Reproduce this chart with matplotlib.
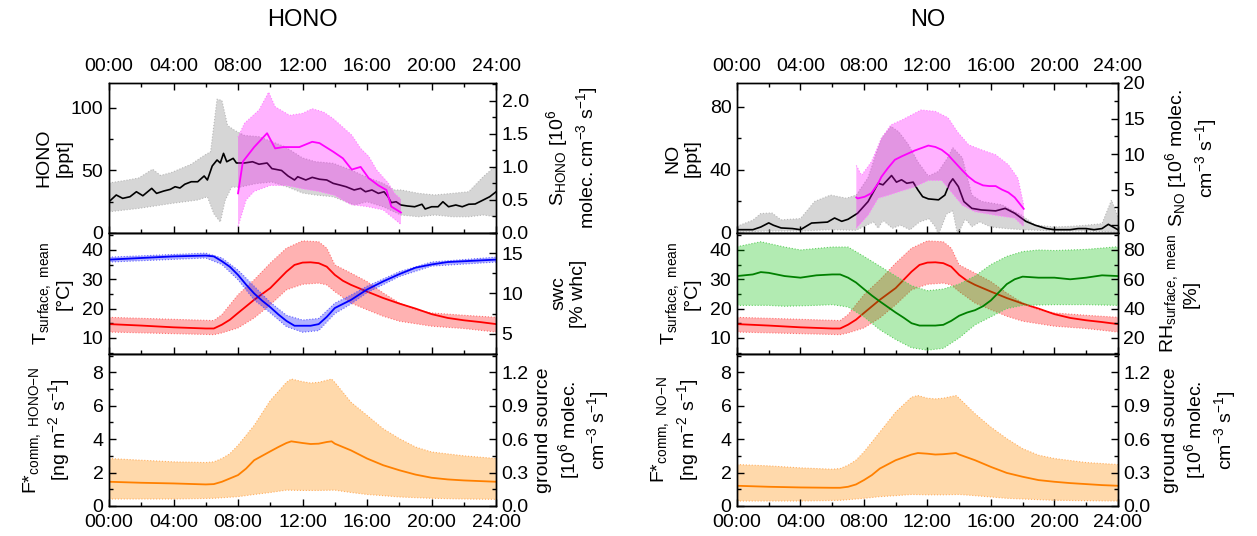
import matplotlib.pyplot as plt
import numpy as np
from matplotlib.ticker import MultipleLocator

# ---- diurnal data (hour of day) ----
HOUR_TICKS = [0, 4, 8, 12, 16, 20, 24]
HOUR_LABELS = ['00:00', '04:00', '08:00', '12:00', '16:00', '20:00', '24:00']

# HONO mixing ratio [ppt], median and spread
hono_t = [0, 0.45, 0.85, 1.3, 1.7, 2.1, 2.65, 2.95, 3.4, 3.8, 4.1, 4.4, 4.7, 5.1, 5.5, 5.9, 6.1,
          6.4, 6.7, 6.9, 7.1, 7.3, 7.7, 7.9, 8.4, 8.9, 9.3, 9.8, 10.1, 10.7, 11.1, 11.5, 11.7,
          12.2, 12.6, 13.05, 13.5, 13.9, 14.3, 14.7, 15.2, 15.6, 15.9, 16.3, 16.7, 17.05, 17.3,
          17.5, 17.8, 18.1, 18.5, 18.95, 19.4, 19.6, 20.0, 20.4, 20.7, 21.05, 21.5, 21.9, 22.3,
          22.7, 23.2, 23.6, 24.0]
hono = [25, 30.4, 27.7, 29, 33, 29.8, 35.7, 31.7, 33.6, 34.9, 37, 36, 39, 41, 41, 45.6, 42.4,
        53.6, 58.4, 56, 63.7, 57, 59.7, 56, 56, 57, 55, 56, 51.5, 50, 45.6, 42.4, 45, 42.4, 44.5,
        43, 42.4, 39.7, 38.4, 37, 34.4, 35.7, 33, 34.4, 31.7, 33, 29, 24.3, 25, 22.4, 21.6, 21,
        23, 19.2, 21, 21, 25, 21, 22.4, 21, 23, 23.2, 26.4, 29, 33]
hono_hi_t = [0, 1, 1.85, 2.7, 3.2, 3.9, 5.1, 5.9, 6.3, 6.7, 7.0, 7.35, 7.8, 8.4, 9.3, 10.1, 10.9,
             12, 12.8, 13.9, 15, 16, 17, 17.7, 18.1, 19.2, 20.2, 21.3, 22.3, 23.2, 23.8, 24]
hono_hi = [40, 42, 44, 51, 46, 48.5, 55, 62, 65, 107, 106, 86, 82, 78, 77, 73, 69, 60, 57, 55.7,
           50.4, 44.5, 39.7, 34.4, 34.4, 31.7, 30.4, 31.7, 33, 45, 51.7, 53]
hono_lo_t = [0, 1.85, 3.9, 5.5, 6.1, 6.5, 6.9, 7.2, 7.6, 8.1, 9.1, 10.1, 11.1, 12, 12.8, 13.9,
             15.2, 16, 17, 18.1, 19.2, 20.2, 21.3, 22.3, 23.2, 24]
hono_lo = [17, 19.7, 23.7, 26.4, 29, 15.5, 8.8, 26, 36.7, 36.7, 39.5, 40.8, 36.7, 32, 30.4, 29,
           22.4, 25, 21, 14.4, 13, 14.4, 13, 13, 14.4, 13]

# HONO source strength [1e6 molec cm-3 s-1]
shono_t = [8.0, 8.3, 9.0, 9.8, 10.3, 10.8, 11.3, 11.8, 12.6, 13.05, 13.9, 14.5, 15.05, 15.6, 16.1,
           16.7, 17.2, 17.5, 18.1]
shono = [0.6, 1.08, 1.3, 1.51, 1.28, 1.30, 1.30, 1.30, 1.38, 1.36, 1.23, 1.13, 0.96, 1.0, 0.83,
         0.72, 0.65, 0.4, 0.31]
shono_hi_t = [8.0, 8.4, 9.3, 9.9, 10.3, 11.2, 12, 12.6, 13.3, 13.9, 14.5, 15.05, 15.6, 16.1, 16.6,
              17.3, 17.7, 18.1]
shono_hi = [1.45, 1.66, 1.86, 2.13, 1.91, 1.78, 1.81, 1.88, 1.83, 1.73, 1.60, 1.48, 1.28, 1.16,
            0.95, 0.76, 0.6, 0.51]
shono_lo_t = [8.0, 8.5, 9, 10, 11, 12, 13, 14, 15, 16, 17, 17.5, 18.1]
shono_lo = [0.1, 0.5, 0.63, 0.72, 0.72, 0.67, 0.63, 0.57, 0.43, 0.40, 0.35, 0.25, 0.13]

# NO mixing ratio [ppt]
no_t = [0, 1, 1.5, 2, 2.3, 2.78, 3.5, 4.0, 4.7, 5.7, 6.15, 6.6, 7.0, 7.6, 8.26, 8.9, 9.2, 9.74,
        10.05, 10.37, 10.7, 11.1, 11.4, 11.7, 12.06, 12.7, 13.1, 13.4, 13.6, 13.95, 14.3, 14.8,
        15.4, 16.3, 16.9, 17.5, 18.2, 18.8, 19.5, 20, 21, 21.5, 22, 22.5, 23, 23.4, 23.7, 24]
no = [2.1, 2.1, 3.8, 6.4, 4.9, 3.2, 2.8, 2.1, 6.3, 6.9, 9.5, 7.4, 8.7, 12.5, 19.9, 31.5, 30.5,
      36.4, 32.2, 33.7, 31.5, 32.2, 27.3, 23, 21.6, 21, 24, 31.5, 34.3, 29.4, 19.9, 15.6, 14.6,
      14, 15.6, 12.5, 7.4, 4.9, 2.8, 2.1, 2.1, 2.8, 2.8, 2.1, 2.8, 5.5, 3.8, 2.1]
no_hi_t = [0, 1, 1.5, 2.2, 2.78, 4.0, 4.9, 5.9, 6.9, 7.52, 8.26, 9.1, 9.7, 10.2, 10.8, 11.4,
           12.06, 12.7, 13.3, 13.6, 14.2, 14.8, 15.4, 16.7, 17.9, 18.8, 20, 21, 22, 23, 23.6, 24]
no_hi = [4.2, 8.1, 12.3, 12.7, 8.3, 9.1, 20, 24, 22, 24, 35, 60, 67.5, 64, 56, 45, 36, 39, 48,
         54, 47.6, 24, 20, 17.8, 11.4, 5, 3.8, 4.2, 4.9, 5.9, 20.8, 10.2]
no_lo_t = [0, 2, 4, 6, 7.5, 8.6, 8.9, 9.2, 9.8, 10.3, 10.9, 11.5, 12.1, 12.5, 12.7, 13.2, 13.6,
           13.9, 14.4, 14.8, 15.3, 16, 17, 18, 20, 22, 24]
no_lo = [0.6, 1.3, 1.3, 2.1, 1.7, 7, 3, 8, 3, 5, 2, 7, 9, 4, -1, 12, 14, -1, 9, 4, 7, 3.8, 2.8,
         2.1, 1.3, 1.3, 0.6]

# NO source strength [1e6 molec cm-3 s-1]
sno_t = [7.52, 7.6, 8.05, 8.47, 8.9, 9.1, 9.5, 9.95, 10.4, 11.2, 12.06, 12.5, 12.9, 13.3, 13.5,
         14.2, 14.6, 15.0, 15.5, 15.9, 16.3, 16.7, 17.1, 17.5, 18.07]
sno = [3.9, 3.76, 4.0, 4.5, 5.9, 6.8, 8.0, 9.2, 9.7, 10.5, 11.2, 11.0, 10.6, 9.9, 9.4, 7.7, 6.8,
       6.1, 5.6, 5.5, 5.5, 5.0, 4.6, 3.9, 2.3]
sno_hi_t = [7.52, 7.85, 8.47, 9.1, 9.7, 10.4, 11.0, 11.6, 12.5, 13.3, 13.9, 14.6, 15.4, 16.3,
            17.1, 17.7, 18.07]
sno_hi = [8.4, 7.0, 8.9, 12.2, 14.1, 14.8, 15.5, 16.2, 16.0, 15.1, 13.1, 11.3, 10.6, 9.9, 8.5,
          6.6, 2.8]
sno_lo_t = [7.52, 8.26, 8.9, 9.5, 10.2, 11.2, 12.06, 12.9, 13.5, 14.2, 15.0, 16.3, 17.5, 18.07]
sno_lo = [-0.4, 1.4, 3.8, 4.2, 4.7, 5.4, 6.3, 6.3, 4.7, 2.8, 1.9, 1.4, 1.0, -0.2]

# surface temperature [degC]
temp_t = [0, 2, 4, 6, 6.5, 7, 7.5, 8, 9, 10, 10.5, 11, 11.5, 12, 12.5, 13, 13.5, 14, 14.5, 15,
          16, 17, 18, 19, 20, 21, 22, 23, 24]
temp = [14.7, 14.2, 13.6, 13.2, 13.2, 14.5, 16.2, 18.5, 23.0, 27.0, 29.8, 32.6, 34.9, 35.7, 35.8,
        35.5, 34.3, 31.5, 29.5, 28.1, 25.8, 23.6, 21.7, 20.0, 18.1, 16.8, 16.0, 15.4, 14.7]
temp_hi_t = [0, 6.5, 7, 8, 9, 10, 11, 12, 13, 13.5, 14, 15, 16, 17, 18, 19, 20, 22, 24]
temp_hi = [17.0, 15.9, 17.9, 24.7, 29.8, 35.5, 40.6, 43.1, 42.8, 40.6, 34.9, 32.1, 29.2, 25.3,
           21.9, 19.6, 18.5, 17.7, 17.0]
temp_lo_t = [0, 6.5, 7, 8, 9, 10, 11, 12, 13, 13.5, 14, 15, 16, 17, 18, 20, 22, 24]
temp_lo = [12.0, 11.1, 11.7, 13.4, 16.8, 21.3, 26.4, 28.3, 28.7, 28.1, 25.8, 21.9, 19.6, 17.4,
           15.7, 14.0, 13.2, 12.0]

# soil water content [% whc]
swc_t = [0, 2, 4, 6, 6.5, 7, 7.5, 8, 8.5, 9, 9.5, 10, 10.5, 11, 11.5, 12, 12.5, 13, 13.5, 14, 15,
         16, 17, 18, 19, 20, 21, 22, 23, 24]
swc = [14.2, 14.4, 14.6, 14.7, 14.6, 14.0, 13.3, 12.3, 11.1, 10.0, 9.1, 8.3, 7.4, 6.6, 6.0, 6.0,
       6.0, 6.2, 7.1, 8.2, 9.2, 10.5, 11.5, 12.4, 13.2, 13.6, 13.9, 14.0, 14.1, 14.2]
swc_band_t = [0, 6, 7, 8, 9, 10, 11, 12, 13, 14, 15, 16, 18, 20, 24]
swc_hi = [14.5, 15.0, 14.4, 12.9, 10.9, 8.9, 7.3, 6.7, 6.9, 8.8, 9.8, 10.9, 12.7, 13.9, 14.5]
swc_lo = [13.9, 14.4, 13.6, 11.7, 9.2, 7.6, 5.9, 5.2, 5.4, 7.5, 8.7, 10.1, 12.1, 13.4, 13.9]

# surface relative humidity [%]
rh_t = [0, 1, 1.5, 2, 3, 4, 5, 6, 6.5, 7, 7.5, 8, 8.5, 9, 9.5, 10, 10.5, 11, 11.5, 12, 12.5, 13,
        13.5, 14, 14.5, 15, 15.5, 16, 16.5, 17, 17.5, 18, 19, 20, 21, 22, 23, 24]
rh = [62.2, 63.3, 64.9, 64.4, 62.2, 61.1, 62.7, 63.3, 63.3, 61.1, 57.8, 53.3, 48.9, 44.9, 41.1,
      37.3, 33.8, 30, 28.4, 28.4, 28.4, 28.9, 31.6, 35.1, 37.3, 38.9, 41.6, 45.6, 51.1, 56.7, 60,
      61.8, 61.1, 61.1, 60, 61.1, 62.7, 62.2]
rh_hi_t = [0, 1.5, 3, 4, 6, 7, 8, 9, 10, 11, 12, 13, 14, 15, 16, 17, 18, 19, 20, 22, 24]
rh_hi = [82.2, 85.6, 82, 80, 82, 82, 75.6, 68.9, 62.2, 55.6, 52.2, 53.3, 56.7, 62.2, 70, 75.6,
         78.9, 80, 79.6, 80.4, 82.2]
rh_lo_t = [0, 2, 3, 5, 6, 7, 8, 9, 10, 11, 12, 13, 14, 15, 16, 17, 18, 20, 22, 24]
rh_lo = [42.2, 42.2, 41.6, 42.2, 42.7, 41.1, 34.4, 25.6, 18.9, 13.3, 11.6, 12.9, 20, 28.9, 34.4,
         40, 42.2, 42.7, 42.7, 42.2]

# community flux F* [ng m-2 s-1]
fhono_t = [0, 2, 4, 6, 6.5, 7, 7.5, 8, 8.5, 9, 10, 10.5, 11, 11.3, 12, 12.5, 13, 13.5, 13.8, 14,
           15, 16, 17, 18, 19, 20, 21, 22, 23, 24]
fhono = [1.45, 1.39, 1.35, 1.29, 1.31, 1.45, 1.65, 1.85, 2.24, 2.74, 3.27, 3.53, 3.77, 3.87, 3.77,
         3.71, 3.73, 3.83, 3.87, 3.73, 3.33, 2.84, 2.44, 2.14, 1.88, 1.69, 1.59, 1.53, 1.49, 1.45]
fhono_hi_t = [0, 2, 4, 6, 6.5, 7, 7.5, 8, 9, 10, 11, 11.3, 12, 12.5, 13, 13.8, 14, 15, 16, 17, 18,
              19, 20, 22, 24]
fhono_hi = [2.84, 2.74, 2.64, 2.60, 2.64, 2.84, 3.13, 3.63, 4.82, 6.31, 7.40, 7.60, 7.44, 7.36,
            7.40, 7.60, 7.40, 6.21, 5.42, 4.62, 4.03, 3.53, 3.23, 3.00, 2.84]
fhono_lo_t = [0, 4, 6.5, 8, 9, 10, 11, 12, 13, 14, 15, 16, 17, 18, 20, 22, 24]
fhono_lo = [0.42, 0.42, 0.46, 0.56, 0.69, 0.81, 0.95, 0.93, 0.93, 0.95, 0.81, 0.69, 0.62, 0.54,
            0.46, 0.42, 0.40]

fno_t = [0, 2, 4, 6, 6.5, 7, 7.5, 8, 8.5, 9, 10, 11, 11.4, 12, 12.5, 13, 13.8, 14, 15, 16, 17, 18,
         19, 20, 21, 22, 23, 24]
fno = [1.21, 1.15, 1.11, 1.09, 1.09, 1.15, 1.29, 1.55, 1.85, 2.24, 2.74, 3.08, 3.17, 3.13, 3.08,
       3.10, 3.17, 3.08, 2.74, 2.34, 1.98, 1.75, 1.55, 1.45, 1.37, 1.31, 1.25, 1.21]
fno_hi_t = [0, 2, 4, 6, 6.5, 7, 7.5, 8, 9, 10, 11, 11.4, 12, 12.5, 13, 13.8, 14, 15, 16, 17, 18,
            19, 20, 22, 24]
fno_hi = [2.48, 2.40, 2.28, 2.20, 2.24, 2.44, 2.74, 3.23, 4.42, 5.62, 6.51, 6.61, 6.45, 6.41, 6.45,
          6.61, 6.45, 5.52, 4.72, 4.03, 3.43, 3.04, 2.84, 2.60, 2.48]
fno_lo_t = [0, 4, 6.5, 8, 9, 10, 11, 12, 13, 14, 15, 16, 17, 18, 20, 24]
fno_lo = [0.30, 0.30, 0.34, 0.46, 0.56, 0.62, 0.69, 0.67, 0.67, 0.69, 0.62, 0.54, 0.46, 0.42,
          0.34, 0.30]

# ng N m-2 s-1 -> 1e6 molec cm-3 s-1
GROUND_FACTOR = 0.15


plt.rcParams['font.family'] = 'sans-serif'
plt.rcParams['font.sans-serif'] = ['Liberation Sans', 'DejaVu Sans']
plt.rcParams['mathtext.default'] = 'regular'
plt.rcParams['font.size'] = 14
plt.rcParams['axes.linewidth'] = 1.0


def band(ax, t_hi, hi, t_lo, lo, color, alpha, edge):
    xs = np.concatenate([np.asarray(t_hi), np.asarray(t_lo)[::-1]])
    ys = np.concatenate([np.asarray(hi), np.asarray(lo)[::-1]])
    ax.fill(xs, ys, color=color, alpha=alpha, lw=0)
    ax.plot(t_hi, hi, ':', color=edge, lw=0.8)
    ax.plot(t_lo, lo, ':', color=edge, lw=0.8)


def setup(ax, tw, top=False, bottom=False):
    ax.set_xlim(0, 24)
    ax.set_xticks(HOUR_TICKS)
    ax.set_xticklabels(HOUR_LABELS)
    ax.xaxis.set_minor_locator(MultipleLocator(2))
    ax.tick_params(axis='x', which='both', direction='in', bottom=True, top=top,
                   labelbottom=bottom, labeltop=top, pad=6)
    ax.tick_params(axis='y', which='both', direction='in', left=True, right=False, pad=4)
    tw.tick_params(axis='y', which='both', direction='in', right=True, pad=4)
    for a in (ax, tw):
        a.tick_params(which='major', length=5, width=1.0)
        a.tick_params(which='minor', length=3, width=1.0)


fig = plt.figure(figsize=(12.57, 5.36), dpi=100)

cols = {'HONO': (0.0867, 0.308), 'NO': (0.5863, 0.303)}
rows = {'top': (0.5653, 0.2799), 'mid': (0.3396, 0.2257), 'bot': (0.056, 0.2836)}

for name, (x0, w) in cols.items():
    ax1 = fig.add_axes([x0, rows['top'][0], w, rows['top'][1]])
    ax2 = fig.add_axes([x0, rows['mid'][0], w, rows['mid'][1]])
    ax3 = fig.add_axes([x0, rows['bot'][0], w, rows['bot'][1]])
    tw1, tw2, tw3 = ax1.twinx(), ax2.twinx(), ax3.twinx()

    # top row: mixing ratio (grey) and source strength (magenta)
    if name == 'HONO':
        band(ax1, hono_hi_t, hono_hi, hono_lo_t, hono_lo, '#d6d6d6', 1.0, '#b8b8b8')
        ax1.plot(hono_t, hono, color='black', lw=1.2)
        band(tw1, shono_hi_t, shono_hi, shono_lo_t, shono_lo, '#ff00ff', 0.3, '#ff80ff')
        tw1.plot(shono_t, shono, color='#ff00ff', lw=1.3)
        ax1.set_ylim(0, 120)
        ax1.yaxis.set_major_locator(MultipleLocator(50))
        ax1.yaxis.set_minor_locator(MultipleLocator(25))
        tw1.set_ylim(0, 2.27)
        tw1.yaxis.set_major_locator(MultipleLocator(0.5))
        tw1.yaxis.set_minor_locator(MultipleLocator(0.25))
        tw1.yaxis.set_major_formatter('{x:.1f}')
        ax1.set_ylabel('HONO\n[ppt]')
        tw1.set_ylabel('S$_{HONO}$ [10$^{6}$\nmolec. cm$^{-3}$ s$^{-1}$]')
    else:
        band(ax1, no_hi_t, no_hi, no_lo_t, no_lo, '#d6d6d6', 1.0, '#b8b8b8')
        ax1.plot(no_t, no, color='black', lw=1.2)
        band(tw1, sno_hi_t, sno_hi, sno_lo_t, sno_lo, '#ff00ff', 0.3, '#ff80ff')
        tw1.plot(sno_t, sno, color='#ff00ff', lw=1.3)
        ax1.set_ylim(0, 95)
        ax1.yaxis.set_major_locator(MultipleLocator(40))
        ax1.yaxis.set_minor_locator(MultipleLocator(20))
        tw1.set_ylim(-1.1, 20)
        tw1.yaxis.set_major_locator(MultipleLocator(5))
        tw1.yaxis.set_minor_locator(MultipleLocator(2.5))
        ax1.set_ylabel('NO\n[ppt]')
        tw1.set_ylabel('S$_{NO}$ [10$^{6}$ molec.\ncm$^{-3}$ s$^{-1}$]')

    # middle row: surface temperature plus swc or RH
    band(ax2, temp_hi_t, temp_hi, temp_lo_t, temp_lo, '#ff0000', 0.3, '#ff7070')
    ax2.plot(temp_t, temp, color='#ff0000', lw=1.3)
    ax2.set_ylim(4.5, 45.8)
    ax2.yaxis.set_major_locator(MultipleLocator(10))
    ax2.yaxis.set_minor_locator(MultipleLocator(5))
    ax2.set_ylabel('T$_{surface,\\ mean}$\n[°C]')
    if name == 'HONO':
        band(tw2, swc_band_t, swc_hi, swc_band_t, swc_lo, '#0000ff', 0.3, '#6060ff')
        tw2.plot(swc_t, swc, color='#0000ff', lw=1.3)
        tw2.set_ylim(2.5, 17.5)
        tw2.yaxis.set_major_locator(MultipleLocator(5))
        tw2.yaxis.set_minor_locator(MultipleLocator(2.5))
        tw2.set_ylabel('swc\n[% whc]')
    else:
        band(tw2, rh_hi_t, rh_hi, rh_lo_t, rh_lo, '#00c000', 0.3, '#60d060')
        tw2.plot(rh_t, rh, color='#008000', lw=1.3)
        tw2.set_ylim(9, 91.6)
        tw2.yaxis.set_major_locator(MultipleLocator(20))
        tw2.yaxis.set_minor_locator(MultipleLocator(10))
        tw2.set_ylabel('RH$_{surface,\\ mean}$\n[%]')

    # bottom row: community flux with equivalent ground source on the right
    if name == 'HONO':
        band(ax3, fhono_hi_t, fhono_hi, fhono_lo_t, fhono_lo, '#ff8c00', 0.33, '#ffb060')
        ax3.plot(fhono_t, fhono, color='#ff8000', lw=1.3)
        ax3.set_ylabel('F*$_{comm,\\ HONO{-}N}$\n[ng m$^{-2}$ s$^{-1}$]')
    else:
        band(ax3, fno_hi_t, fno_hi, fno_lo_t, fno_lo, '#ff8c00', 0.33, '#ffb060')
        ax3.plot(fno_t, fno, color='#ff8000', lw=1.3)
        ax3.set_ylabel('F*$_{comm,\\ NO{-}N}$\n[ng m$^{-2}$ s$^{-1}$]')
    ax3.set_ylim(0, 9.1)
    ax3.yaxis.set_major_locator(MultipleLocator(2))
    ax3.yaxis.set_minor_locator(MultipleLocator(1))
    tw3.set_ylim(0, 9.1 * GROUND_FACTOR)
    tw3.yaxis.set_major_locator(MultipleLocator(0.3))
    tw3.yaxis.set_minor_locator(MultipleLocator(0.15))
    tw3.yaxis.set_major_formatter('{x:.1f}')
    tw3.set_ylabel('ground source\n[10$^{6}$ molec.\ncm$^{-3}$ s$^{-1}$]')

    setup(ax1, tw1, top=True)
    setup(ax2, tw2)
    setup(ax3, tw3, bottom=True)

    # line up the axis labels of the three panels
    if name == 'HONO':
        for a in (ax1, ax2, ax3):
            a.yaxis.set_label_coords(-0.095, 0.5)
        tw1.yaxis.set_label_coords(1.125, 0.5)
        tw2.yaxis.set_label_coords(1.14, 0.5)
        tw3.yaxis.set_label_coords(1.10, 0.5)
    else:
        for a in (ax1, ax2, ax3):
            a.yaxis.set_label_coords(-0.095, 0.5)
        tw1.yaxis.set_label_coords(1.12, 0.5)
        tw2.yaxis.set_label_coords(1.105, 0.5)
        tw3.yaxis.set_label_coords(1.115, 0.5)

    fig.text(x0 + w / 2, 1 - 20 / 536, name, ha='center', va='center', fontsize=17)

fig.savefig('out.png', dpi=100)
